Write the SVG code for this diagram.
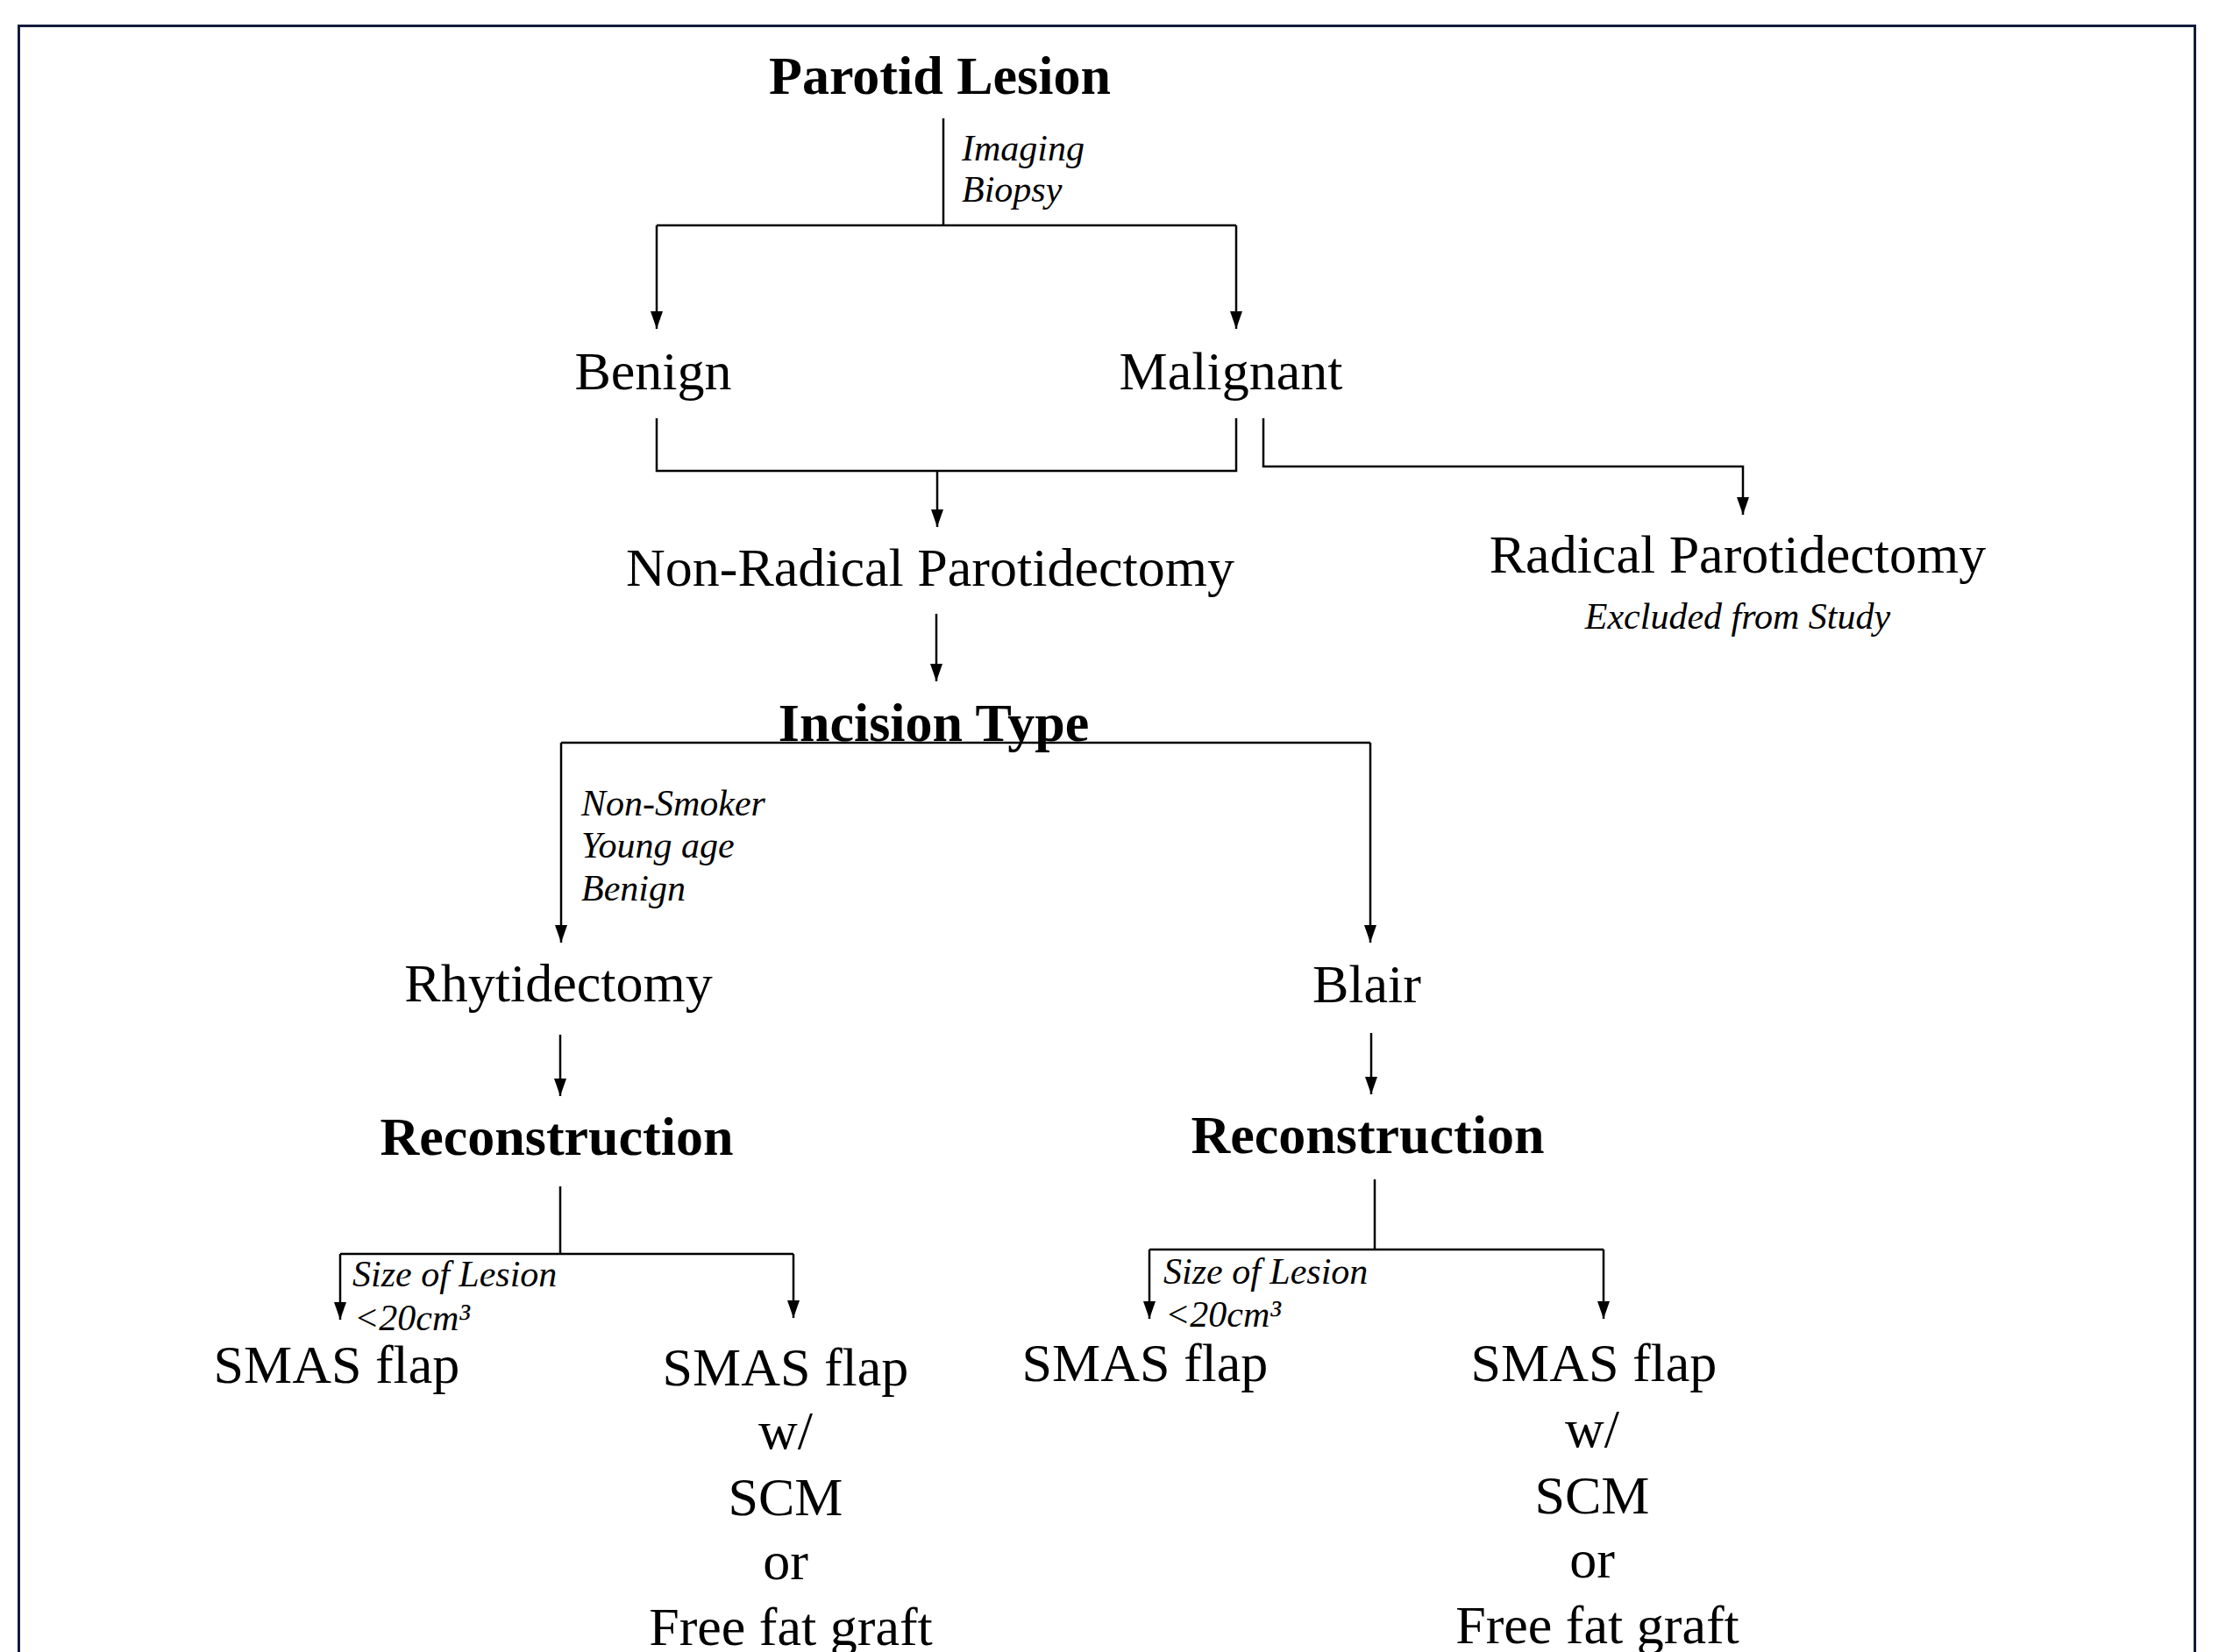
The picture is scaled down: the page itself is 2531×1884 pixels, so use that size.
<svg xmlns="http://www.w3.org/2000/svg" width="2531" height="1884" viewBox="0 0 2531 1884">
<style>
  text { font-family: "Liberation Serif", "Times New Roman", serif; fill: #000; }
  .n { font-size: 62px; text-anchor: middle; }
  .b { font-size: 62px; font-weight: bold; text-anchor: middle; }
  .i { font-size: 42px; font-style: italic; }
  .ic { font-size: 42px; font-style: italic; text-anchor: middle; }
  .c { fill: none; stroke: #000; stroke-width: 2.5; }
  .a { fill: none; stroke: #000; stroke-width: 2.5; marker-end: url(#ah); }
</style>
<defs>
  <marker id="ah" markerUnits="userSpaceOnUse" markerWidth="20" markerHeight="14" refX="20" refY="7" orient="auto">
    <path d="M0,0 L20,7 L0,14 z" fill="#000"/>
  </marker>
</defs>
<rect x="0" y="0" width="2531" height="1884" fill="#fff"/>
<rect x="21.5" y="29.5" width="2482" height="1900" fill="none" stroke="#141c3c" stroke-width="3"/>

<g id="connectors">
  <line class="c" x1="1076" y1="135" x2="1076" y2="257"/>
  <line class="c" x1="749" y1="257" x2="1410" y2="257"/>
  <line class="a" x1="749" y1="257" x2="749" y2="375"/>
  <line class="a" x1="1410" y1="257" x2="1410" y2="375"/>

  <polyline class="c" points="749,477 749,537 1410,537 1410,477"/>
  <line class="a" x1="1069" y1="537" x2="1069" y2="601"/>

  <polyline class="a" points="1441,477 1441,532 1988,532 1988,587"/>

  <line class="a" x1="1068" y1="700" x2="1068" y2="777"/>

  <line class="c" x1="640" y1="847" x2="1563" y2="847"/>
  <line class="a" x1="640" y1="847" x2="640" y2="1075"/>
  <line class="a" x1="1563" y1="847" x2="1563" y2="1075"/>

  <line class="a" x1="639" y1="1180" x2="639" y2="1250"/>
  <line class="a" x1="1564" y1="1178" x2="1564" y2="1248"/>

  <line class="c" x1="639" y1="1353" x2="639" y2="1430"/>
  <line class="c" x1="388" y1="1430" x2="905" y2="1430"/>
  <line class="a" x1="388" y1="1430" x2="388" y2="1505"/>
  <line class="a" x1="905" y1="1430" x2="905" y2="1503"/>

  <line class="c" x1="1568" y1="1345" x2="1568" y2="1425"/>
  <line class="c" x1="1311" y1="1425" x2="1829" y2="1425"/>
  <line class="a" x1="1311" y1="1425" x2="1311" y2="1504"/>
  <line class="a" x1="1829" y1="1425" x2="1829" y2="1504"/>
</g>

<g id="label-imaging">
  <text class="i" x="1097" y="183">Imaging</text>
  <text class="i" x="1097" y="230">Biopsy</text>
</g>
<g id="label-criteria">
  <text class="i" x="663" y="930">Non-Smoker</text>
  <text class="i" x="663" y="978">Young age</text>
  <text class="i" x="663" y="1027">Benign</text>
</g>
<g id="label-size-left">
  <text class="i" x="402" y="1467">Size of Lesion</text>
  <text class="i" x="404" y="1517">&lt;20cm³</text>
</g>
<g id="label-size-right">
  <text class="i" x="1327" y="1464">Size of Lesion</text>
  <text class="i" x="1329" y="1513">&lt;20cm³</text>
</g>

<g id="parotid-lesion"><text class="b" x="1072" y="107">Parotid Lesion</text></g>
<g id="benign"><text class="n" x="745" y="444">Benign</text></g>
<g id="malignant"><text class="n" x="1404" y="444">Malignant</text></g>
<g id="non-radical"><text class="n" x="1061" y="668">Non-Radical Parotidectomy</text></g>
<g id="radical">
  <text class="n" x="1982" y="653">Radical Parotidectomy</text>
  <text class="ic" x="1982" y="717">Excluded from Study</text>
</g>
<g id="incision-type"><text class="b" x="1065" y="845">Incision Type</text></g>
<g id="rhytidectomy"><text class="n" x="637" y="1142">Rhytidectomy</text></g>
<g id="blair"><text class="n" x="1559" y="1143">Blair</text></g>
<g id="reconstruction-left"><text class="b" x="635" y="1317">Reconstruction</text></g>
<g id="reconstruction-right"><text class="b" x="1560" y="1315">Reconstruction</text></g>
<g id="smas-left-1"><text class="n" x="384" y="1577">SMAS flap</text></g>
<g id="smas-left-2">
  <text class="n" x="896" y="1580">SMAS flap</text>
  <text class="n" x="896" y="1652">w/</text>
  <text class="n" x="896" y="1728">SCM</text>
  <text class="n" x="896" y="1801">or</text>
  <text class="n" x="902" y="1876">Free fat graft</text>
</g>
<g id="smas-right-1"><text class="n" x="1306" y="1575">SMAS flap</text></g>
<g id="smas-right-2">
  <text class="n" x="1818" y="1575">SMAS flap</text>
  <text class="n" x="1816" y="1650">w/</text>
  <text class="n" x="1816" y="1726">SCM</text>
  <text class="n" x="1816" y="1799">or</text>
  <text class="n" x="1822" y="1874">Free fat graft</text>
</g>
</svg>
